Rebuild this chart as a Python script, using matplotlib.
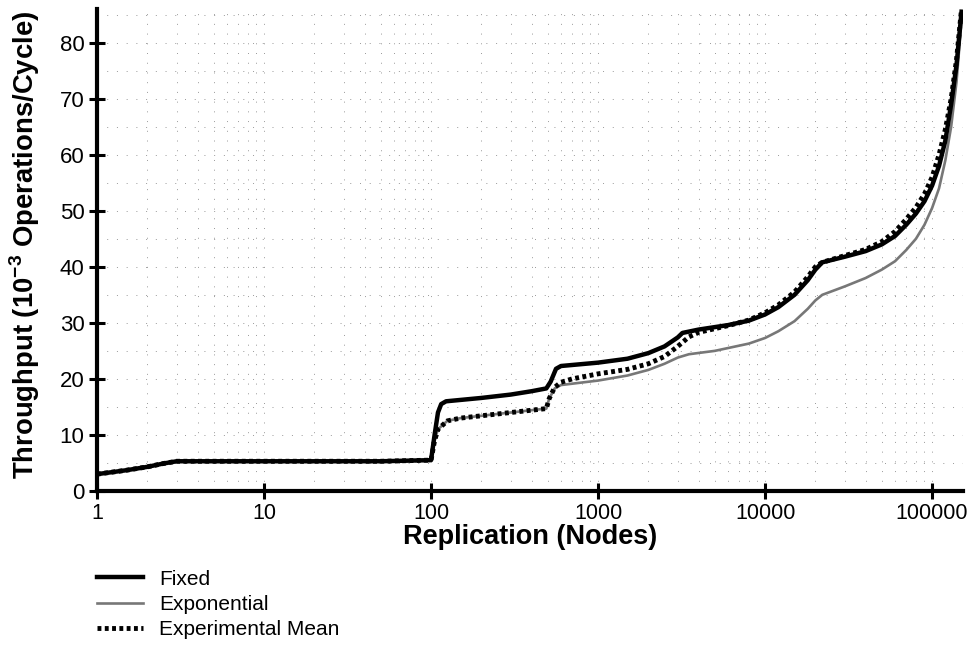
import matplotlib
matplotlib.use("Agg")
import matplotlib.pyplot as plt
from matplotlib.ticker import MultipleLocator, LogLocator, NullFormatter
import numpy as np

plt.rcParams['font.family'] = ['Liberation Sans', 'DejaVu Sans']
plt.rcParams['mathtext.fontset'] = 'custom'
plt.rcParams['mathtext.rm'] = 'Liberation Sans'
plt.rcParams['mathtext.bf'] = 'Liberation Sans:bold'

# data
fixed_x = [1, 1.5, 2, 2.5, 3, 10, 50, 100, 105, 110, 115, 123, 200, 300, 400, 490, 520,
           560, 600, 1000, 1500, 2000, 2500, 3000, 3200, 4000, 6000, 8000, 10000, 12000,
           15000, 18000, 20000, 22000, 30000, 40000, 50000, 60000, 70000, 80000, 90000,
           100000, 110000, 120000, 130000, 140000, 150000]
fixed_y = [3.0, 3.7, 4.3, 4.9, 5.3, 5.3, 5.3, 5.5, 10.0, 14.0, 15.5, 16.0, 16.6, 17.2, 17.8,
           18.3, 19.5, 21.8, 22.3, 22.9, 23.6, 24.6, 25.8, 27.4, 28.2, 28.8, 29.6, 30.4,
           31.5, 32.8, 35.0, 37.6, 39.5, 40.8, 41.8, 42.8, 44.0, 45.5, 47.5, 49.5, 51.7,
           54.5, 58.0, 62.5, 69.0, 76.0, 85.5]

mean_x = [1, 1.5, 2, 2.5, 3, 10, 50, 100, 105, 110, 125, 150, 300, 490, 510, 550, 600, 700,
          1000, 1500, 2000, 2500, 3000, 3500, 4000, 6000, 8000, 10000, 12000, 15000, 18000,
          20000, 22000, 30000, 40000, 50000, 60000, 70000, 80000, 90000, 100000, 110000,
          120000, 130000, 140000, 150000]
mean_y = [3.0, 3.7, 4.3, 4.9, 5.3, 5.3, 5.3, 5.5, 9.0, 11.0, 12.5, 13.0, 14.0, 14.7, 16.5,
          18.5, 19.4, 20.0, 20.9, 21.7, 22.7, 24.0, 25.8, 27.5, 28.3, 29.5, 30.5, 31.8,
          33.2, 35.5, 38.2, 40.0, 40.8, 42.0, 43.1, 44.5, 46.3, 48.5, 50.6, 53.0, 56.0,
          60.0, 64.5, 70.0, 77.0, 86.0]

expo_x = [1, 1.5, 2, 2.5, 3, 10, 50, 100, 105, 110, 125, 150, 300, 490, 510, 550, 600,
          1000, 1500, 2000, 2500, 3000, 3500, 5000, 8000, 10000, 12000, 15000, 18000,
          20000, 22000, 30000, 40000, 50000, 60000, 70000, 80000, 90000, 100000, 110000,
          120000, 130000, 140000, 150000]
expo_y = [3.0, 3.7, 4.3, 4.9, 5.3, 5.3, 5.3, 5.5, 9.0, 11.0, 12.5, 13.0, 14.0, 14.7, 16.5,
          18.3, 18.9, 19.7, 20.6, 21.6, 22.7, 23.8, 24.4, 25.0, 26.3, 27.3, 28.5, 30.3,
          32.5, 34.0, 35.0, 36.5, 38.0, 39.5, 41.0, 43.0, 45.0, 47.5, 50.5, 54.0, 59.0,
          65.0, 73.0, 84.0]

x_ticks = [1, 10, 100, 1000, 10000, 100000]
x_labels = ['1', '10', '100', '1000', '10000', '100000']
y_ticks = [0, 10, 20, 30, 40, 50, 60, 70, 80]

fig = plt.figure(figsize=(9.72, 6.46), dpi=100)
ax = fig.add_axes([0.0998, 0.24, 0.8909, 0.746])

ax.plot(expo_x, expo_y, color='#777777', lw=1.9, label='Exponential', zorder=3)
ax.plot(mean_x, mean_y, color='black', lw=3.5, linestyle=(0, (0.8, 0.7)),
        label='Experimental Mean', zorder=4)
ax.plot(fixed_x, fixed_y, color='black', lw=3.2, label='Fixed', zorder=5)

ax.set_xscale('log')
ax.set_xlim(1, 153000)
ax.set_ylim(0, 86)
ax.set_xticks(x_ticks)
ax.set_xticklabels(x_labels)
ax.xaxis.set_minor_locator(LogLocator(base=10, subs=np.arange(2, 10)))
ax.xaxis.set_minor_formatter(NullFormatter())
ax.set_yticks(y_ticks)
ax.yaxis.set_minor_locator(MultipleLocator(5))

ax.grid(which='both', color='0.6', linestyle=(0, (1, 9)), linewidth=0.7)
ax.tick_params(which='minor', length=0)
ax.tick_params(which='major', direction='inout', length=12, width=2.2, pad=3)
ax.tick_params(axis='x', labelsize=15.5)
ax.tick_params(axis='y', labelsize=16)

for s in ['top', 'right']:
    ax.spines[s].set_visible(False)
for s in ['left', 'bottom']:
    ax.spines[s].set_linewidth(3)

ax.set_xlabel('Replication (Nodes)', fontsize=19.5, fontweight='bold', labelpad=0)
ax.set_ylabel(r'Throughput (10$^{\mathbf{-3}}$ Operations/Cycle)', fontsize=19.8,
              fontweight='bold')
ax.yaxis.set_label_coords(-0.063, 0.51)

h, l = ax.get_legend_handles_labels()
order = [2, 0, 1]
leg = fig.legend([h[i] for i in order], [l[i] for i in order],
                 loc='upper left', bbox_to_anchor=(0.08, 0.147), frameon=False,
                 fontsize=15, handlelength=2.25, labelspacing=0.3, handletextpad=0.75)

fig.savefig('out.png', dpi=100)
